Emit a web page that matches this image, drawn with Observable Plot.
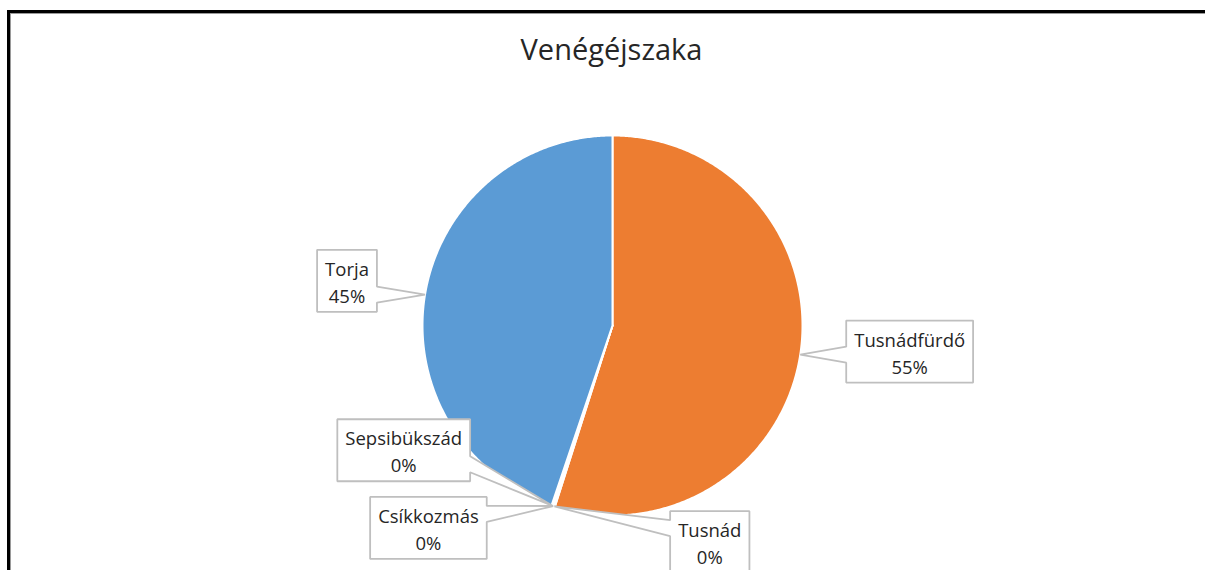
<!DOCTYPE html>
<html>
<head>
<meta charset="utf-8">
<script src="https://cdn.jsdelivr.net/npm/d3@7"></script>
<script src="https://cdn.jsdelivr.net/npm/@observablehq/plot@0.6"></script>
<style>
  html, body { margin: 0; padding: 0; background: #fff; }
  body { width: 1205px; height: 570px; overflow: hidden; position: relative; font-family: "Open Sans", sans-serif; }
  #frame { position: absolute; left: 7px; top: 10px; width: 1198px; height: 560px; box-sizing: border-box;
           border-left: 3px solid #000; border-top: 3px solid #000; box-shadow: inset 1px 1px 0 #9a9a9a; pointer-events: none; }
  #title { position: relative; width: 1205px; height: 100px; box-sizing: border-box; padding-top: 29px; padding-left: 18px;
           text-align: center; font-size: 29px; line-height: 40px; color: #262626; }
  #chart { position: relative; width: 1205px; height: 470px; }
</style>
</head>
<body>
<div id="frame"></div>
<div id="title">Venégéjszaka</div>
<div id="chart"></div>
<script>
// ---- data (clockwise from 12 o'clock) ----
const names  = ["Tusnádfürdő", "Tusnád", "Csíkkozmás", "Sepsibükszád", "Torja"];
const values = [54.9, 0.1, 0.1, 0.1, 44.8];
const colors = ["#ED7D31", "#A5A5A5", "#FFC000", "#4472C4", "#5B9BD5"];

// ---- layout ----
const W = 1205, H = 470;
const CX = 612, CY = 225, R = 190;
// label placement: angular turn (deg) from slice mid-angle, distance in radii
const labelTurn = [-3.8, -42.0, 24.1, 40.6, 0.2];
const labelDist = [1.57, 1.25, 1.44, 1.28, 1.417];
const FONT_SIZE = 18.5, LINE_H = 27, PAD_X = 8, BOX_H = 62, WEDGE_HALF = 8, WEDGE_MARGIN = 17;

const total = d3.sum(values);
const arcs = d3.pie().sort(null).value(d => d)(values);
const deg = Math.PI / 180;
const px = (a, r) => CX + r * Math.sin(a);
const py = (a, r) => CY - r * Math.cos(a);

// slice polygons
const slicePts = [];
arcs.forEach((a, i) => {
  slicePts.push({id: i, x: CX, y: CY, c: colors[i]});
  const n = Math.max(2, Math.ceil((a.endAngle - a.startAngle) / (0.5 * deg)));
  for (let k = 0; k <= n; k++) {
    const t = a.startAngle + (a.endAngle - a.startAngle) * k / n;
    slicePts.push({id: i, x: px(t, R), y: py(t, R), c: colors[i]});
  }
});

// text measurement
const ctx = document.createElement("canvas").getContext("2d");
ctx.font = `${FONT_SIZE}px "Open Sans"`;

const labels = arcs.map((a, i) => {
  const mid = (a.startAngle + a.endAngle) / 2;
  const la = mid + labelTurn[i] * deg;
  const pct = Math.round(values[i] / total * 100) + "%";
  const w = Math.max(ctx.measureText(names[i]).width, ctx.measureText(pct).width) + 2 * PAD_X;
  const bx = px(la, labelDist[i] * R), by = py(la, labelDist[i] * R);
  return {i, text: names[i] + "\n" + pct, bx, by, x0: bx - w / 2, x1: bx + w / 2, y0: by - BOX_H / 2, y1: by + BOX_H / 2,
          tx: px(mid, R), ty: py(mid, R)};
});

const clamp = (v, lo, hi) => Math.max(lo, Math.min(hi, v));
const calloutPts = [];
labels.forEach(L => {
  const pts = [];
  const cy = clamp(L.ty, L.y0 + WEDGE_MARGIN, L.y1 - WEDGE_MARGIN);
  const cx = clamp(L.tx, L.x0 + WEDGE_MARGIN, L.x1 - WEDGE_MARGIN);
  const side = L.tx < L.x0 ? "left" : L.tx > L.x1 ? "right" : L.ty < L.y0 ? "top" : "bottom";
  pts.push([L.x0, L.y0]);
  if (side === "top") pts.push([cx - WEDGE_HALF, L.y0], [L.tx, L.ty], [cx + WEDGE_HALF, L.y0]);
  pts.push([L.x1, L.y0]);
  if (side === "right") pts.push([L.x1, cy - WEDGE_HALF], [L.tx, L.ty], [L.x1, cy + WEDGE_HALF]);
  pts.push([L.x1, L.y1]);
  if (side === "bottom") pts.push([cx + WEDGE_HALF, L.y1], [L.tx, L.ty], [cx - WEDGE_HALF, L.y1]);
  pts.push([L.x0, L.y1]);
  if (side === "left") pts.push([L.x0, cy + WEDGE_HALF], [L.tx, L.ty], [L.x0, cy - WEDGE_HALF]);
  pts.forEach(([x, y]) => calloutPts.push({id: L.i, x, y}));
});

const chart = Plot.plot({
  width: W, height: H,
  margin: 0,
  x: {domain: [0, W], range: [0, W], axis: null},
  y: {domain: [0, H], range: [0, H], axis: null},
  color: {type: "identity"},
  style: {background: "transparent", overflow: "visible"},
  marks: [
    Plot.line(slicePts, {x: "x", y: "y", z: "id", fill: "c", stroke: "white", strokeWidth: 2, curve: "linear-closed"}),
    Plot.line(calloutPts, {x: "x", y: "y", z: "id", fill: "white", stroke: "#bfbfbf", strokeWidth: 1.8, curve: "linear-closed", strokeLinejoin: "miter"}),
    Plot.text(labels, {x: "bx", y: "by", text: "text", fontSize: FONT_SIZE, lineHeight: LINE_H / FONT_SIZE,
                       fontFamily: "Open Sans", fill: "#262626", textAnchor: "middle"})
  ]
});
document.getElementById("chart").appendChild(chart);
</script>
</body>
</html>
